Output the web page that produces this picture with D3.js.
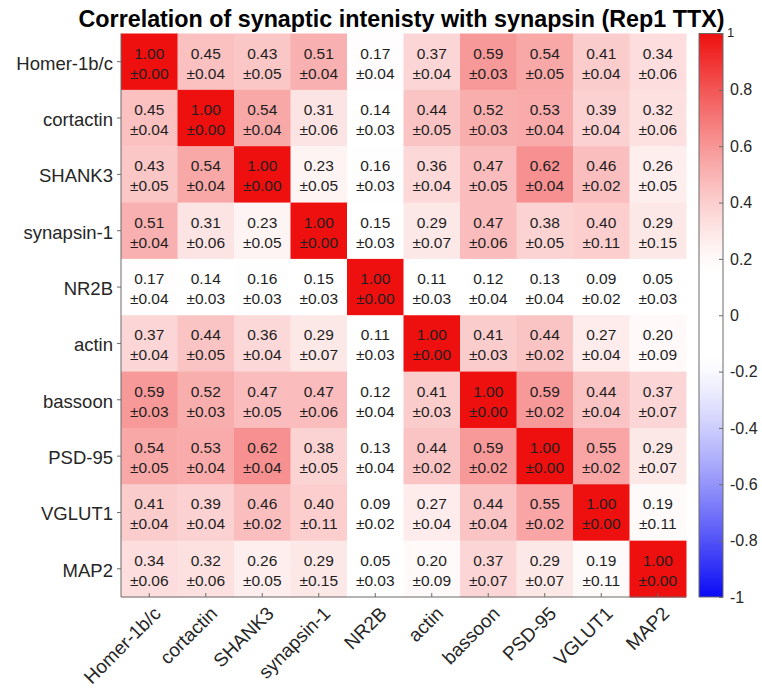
<!DOCTYPE html>
<html>
<head>
<meta charset="utf-8">
<script src="https://cdn.jsdelivr.net/npm/d3@7"></script>
<style>
  html, body { margin: 0; padding: 0; background: #fff; }
  svg { display: block; font-family: "Liberation Sans", Arial, Helvetica, sans-serif; }
</style>
</head>
<body>
<svg id="chart" width="762" height="692"></svg>
<script>
// Marker names (rows top to bottom, columns left to right)
const markers = ["Homer-1b/c", "cortactin", "SHANK3", "synapsin-1", "NR2B",
                 "actin", "bassoon", "PSD-95", "VGLUT1", "MAP2"];

// Mean correlation coefficients, one array per row
const corrValues = [
  [1.00, 0.45, 0.43, 0.51, 0.17, 0.37, 0.59, 0.54, 0.41, 0.34],
  [0.45, 1.00, 0.54, 0.31, 0.14, 0.44, 0.52, 0.53, 0.39, 0.32],
  [0.43, 0.54, 1.00, 0.23, 0.16, 0.36, 0.47, 0.62, 0.46, 0.26],
  [0.51, 0.31, 0.23, 1.00, 0.15, 0.29, 0.47, 0.38, 0.40, 0.29],
  [0.17, 0.14, 0.16, 0.15, 1.00, 0.11, 0.12, 0.13, 0.09, 0.05],
  [0.37, 0.44, 0.36, 0.29, 0.11, 1.00, 0.41, 0.44, 0.27, 0.20],
  [0.59, 0.52, 0.47, 0.47, 0.12, 0.41, 1.00, 0.59, 0.44, 0.37],
  [0.54, 0.53, 0.62, 0.38, 0.13, 0.44, 0.59, 1.00, 0.55, 0.29],
  [0.41, 0.39, 0.46, 0.40, 0.09, 0.27, 0.44, 0.55, 1.00, 0.19],
  [0.34, 0.32, 0.26, 0.29, 0.05, 0.20, 0.37, 0.29, 0.19, 1.00]
];

// Uncertainty (±) of each coefficient
const corrErrors = [
  [0.00, 0.04, 0.05, 0.04, 0.04, 0.04, 0.03, 0.05, 0.04, 0.06],
  [0.04, 0.00, 0.04, 0.06, 0.03, 0.05, 0.03, 0.04, 0.04, 0.06],
  [0.05, 0.04, 0.00, 0.05, 0.03, 0.04, 0.05, 0.04, 0.02, 0.05],
  [0.04, 0.06, 0.05, 0.00, 0.03, 0.07, 0.06, 0.05, 0.11, 0.15],
  [0.04, 0.03, 0.03, 0.03, 0.00, 0.03, 0.04, 0.04, 0.02, 0.03],
  [0.04, 0.05, 0.04, 0.07, 0.03, 0.00, 0.03, 0.02, 0.04, 0.09],
  [0.03, 0.03, 0.05, 0.06, 0.04, 0.03, 0.00, 0.02, 0.04, 0.07],
  [0.05, 0.04, 0.04, 0.05, 0.04, 0.02, 0.02, 0.00, 0.02, 0.07],
  [0.04, 0.04, 0.02, 0.11, 0.02, 0.04, 0.04, 0.02, 0.00, 0.11],
  [0.06, 0.06, 0.05, 0.15, 0.03, 0.09, 0.07, 0.07, 0.11, 0.00]
];

// Colour bar tick values and their labels
const colorTicks = [1, 0.8, 0.6, 0.4, 0.2, 0, -0.2, -0.4, -0.6, -0.8, -1];
const colorTickLabels = ["1", "0.8", "0.6", "0.4", "0.2", "0", "-0.2", "-0.4", "-0.6", "-0.8", "-1"];

const titleText = "Correlation of synaptic intenisty with synapsin (Rep1 TTX)";

// ---- layout ----
const plot = { left: 121, right: 686, top: 33.5, bottom: 597 };
const bar = { left: 699, right: 723 };
const axisColor = "#6b6b6b";
const labelColor = "#262626";

// Diverging blue-white-red map with a white band around zero
const redEnd = d3.rgb(238, 15, 15);
const blueEnd = d3.rgb(10, 10, 245);
function corrColor(v) {
  const a = Math.abs(v);
  const t = Math.max(0, Math.min(1, (a - 0.15) / 0.85));
  const s = Math.pow(t, 1.3);
  return d3.interpolateRgb("#ffffff", v >= 0 ? redEnd : blueEnd)(s);
}

const svg = d3.select("#chart");

const x = d3.scaleBand().domain(markers).range([plot.left, plot.right]);
const y = d3.scaleBand().domain(markers).range([plot.top, plot.bottom]);

// ---- cells ----
const cells = [];
corrValues.forEach((row, i) => row.forEach((v, j) => {
  cells.push({ r: markers[i], c: markers[j], v: v, e: corrErrors[i][j] });
}));

const cellG = svg.append("g");
cellG.selectAll("rect").data(cells).join("rect")
  .attr("x", d => x(d.c))
  .attr("y", d => y(d.r))
  .attr("width", x.bandwidth() + 0.5)
  .attr("height", y.bandwidth() + 0.5)
  .attr("fill", d => corrColor(d.v));

const textG = svg.append("g")
  .attr("font-size", "15.5px")
  .attr("fill", "#1e1e1e")
  .attr("text-anchor", "middle");

textG.selectAll("text.val").data(cells).join("text")
  .attr("class", "val")
  .attr("x", d => x(d.c) + x.bandwidth() / 2)
  .attr("y", d => y(d.r) + y.bandwidth() / 2 - 3)
  .text(d => d.v.toFixed(2));

textG.selectAll("text.err").data(cells).join("text")
  .attr("class", "err")
  .attr("x", d => x(d.c) + x.bandwidth() / 2)
  .attr("y", d => y(d.r) + y.bandwidth() / 2 + 17)
  .text(d => "\u00b1" + d.e.toFixed(2));

// ---- axes ----
const xAxis = d3.axisBottom(x).tickSize(-4).tickFormat("");
const gx = svg.append("g")
  .attr("transform", `translate(0,${plot.bottom})`)
  .call(xAxis);
gx.select(".domain").attr("stroke", axisColor).attr("d", `M${plot.left},0H${plot.right}`);
gx.selectAll(".tick line").attr("stroke", axisColor);

const yAxis = d3.axisLeft(y).tickSize(4).tickFormat("");
const gy = svg.append("g")
  .attr("transform", `translate(${plot.left},0)`)
  .call(yAxis);
gy.select(".domain").attr("stroke", axisColor).attr("d", `M0,${plot.top}V${plot.bottom}`);
gy.selectAll(".tick line").attr("stroke", axisColor);

// Row labels
svg.append("g").selectAll("text").data(markers).join("text")
  .attr("x", plot.left - 8)
  .attr("y", d => y(d) + y.bandwidth() / 2 + 1.5)
  .attr("dy", "0.35em")
  .attr("text-anchor", "end")
  .attr("font-size", "18.5px")
  .attr("fill", labelColor)
  .text(d => d);

// Column labels, rotated
svg.append("g").selectAll("text").data(markers).join("text")
  .attr("transform", d => `translate(${x(d) + x.bandwidth() / 2 + 8},${plot.bottom + 13}) rotate(-45)`)
  .attr("dy", "0.35em")
  .attr("text-anchor", "end")
  .attr("font-size", "19px")
  .attr("fill", labelColor)
  .text(d => d);

// ---- title ----
svg.append("text")
  .attr("x", (plot.left + plot.right) / 2 - 2)
  .attr("y", 27)
  .attr("text-anchor", "middle")
  .attr("font-size", "23.3px")
  .attr("font-weight", "bold")
  .attr("fill", "#000")
  .text(titleText);

// ---- colour bar ----
const cScale = d3.scaleLinear().domain([-1, 1]).range([plot.bottom, plot.top]);

const grad = svg.append("defs").append("linearGradient")
  .attr("id", "corrGrad")
  .attr("x1", 0).attr("y1", 1).attr("x2", 0).attr("y2", 0);
grad.selectAll("stop").data(d3.range(0, 101)).join("stop")
  .attr("offset", d => d + "%")
  .attr("stop-color", d => corrColor(-1 + d / 50));

svg.append("rect")
  .attr("x", bar.left)
  .attr("y", plot.top)
  .attr("width", bar.right - bar.left)
  .attr("height", plot.bottom - plot.top)
  .attr("fill", "url(#corrGrad)")
  .attr("stroke", axisColor)
  .attr("stroke-width", 1);

const cAxis = d3.axisRight(cScale).tickValues(colorTicks).tickSize(-4).tickFormat("");
const gc = svg.append("g")
  .attr("transform", `translate(${bar.right},0)`)
  .call(cAxis);
gc.select(".domain").remove();
gc.selectAll(".tick line").attr("stroke", axisColor);

svg.append("g").selectAll("text").data(colorTicks).join("text")
  .attr("x", d => d === 1 ? bar.right + 4 : bar.right + 7)
  .attr("y", d => d === 1 ? cScale(d) - 1 : cScale(d))
  .attr("dy", "0.35em")
  .attr("font-size", d => d === 1 ? "13px" : "16px")
  .attr("fill", labelColor)
  .text((d, i) => colorTickLabels[i]);
</script>
</body>
</html>
